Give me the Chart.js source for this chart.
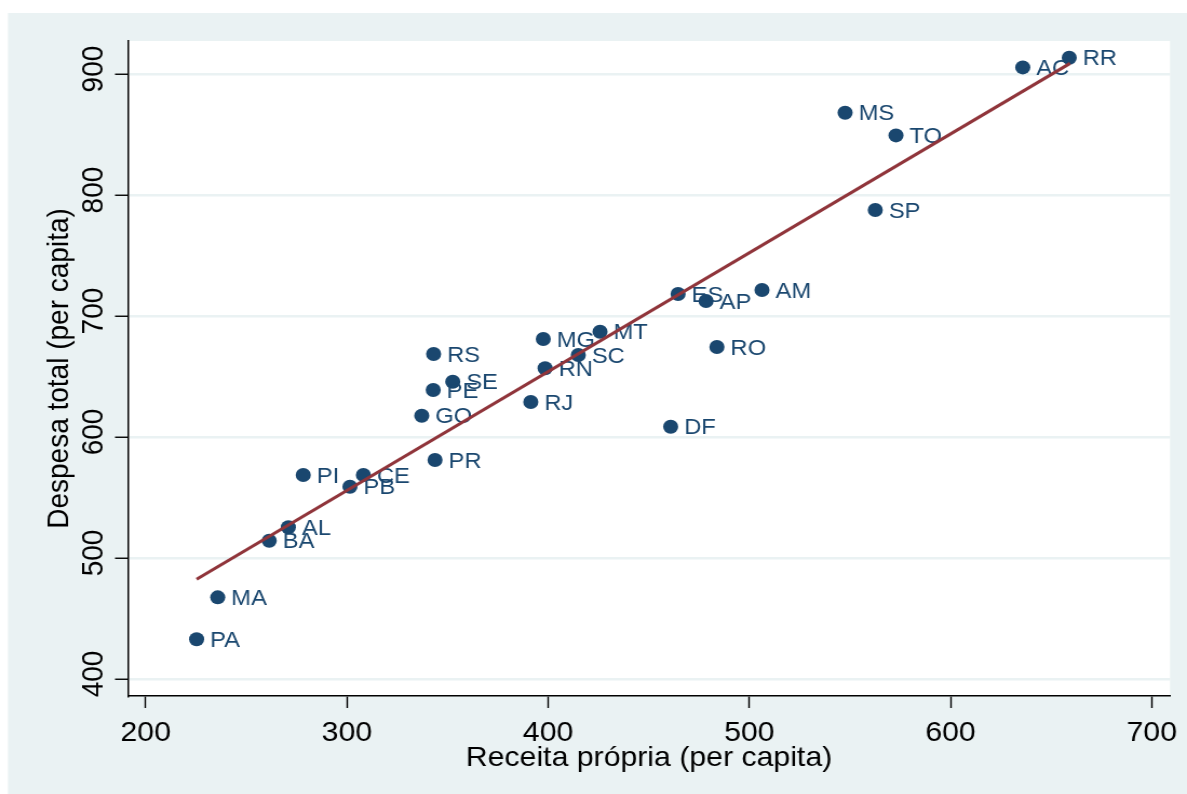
<!DOCTYPE html>
<html>
<head>
<meta charset="utf-8">
<script src="https://cdn.jsdelivr.net/npm/chart.js@4/dist/chart.umd.min.js"></script>
<style>
  html, body { margin: 0; padding: 0; background: #ffffff; overflow: hidden; }
  #wrap { width: 1099px; height: 794px; transform: scaleX(1.08007); transform-origin: 0 0; }
  canvas { display: block; }
</style>
</head>
<body>
<div id="wrap"><canvas id="c" width="1099" height="794" style="width:1099px;height:794px"></canvas></div>
<script>
// ---- Data ----
const states = ['RR','AC','MS','TO','SP','AM','ES','AP','RO','DF','MT','MG','SC','RN','RJ','RS','SE','PE','GO','PR','PI','CE','PB','AL','BA','MA','PA'];
const receitaPropria = [659.0, 635.9, 547.6, 572.9, 562.6, 506.3, 464.6, 478.5, 483.9, 460.9, 425.8, 397.6, 415.0, 398.5, 391.4, 343.1, 352.6, 342.9, 337.2, 343.8, 278.3, 308.2, 301.5, 270.9, 261.4, 235.8, 225.3];
const despesaTotal   = [913.5, 905.5, 868.0, 849.3, 787.6, 721.5, 718.2, 712.4, 674.4, 608.5, 687.0, 681.0, 667.8, 656.8, 628.9, 668.6, 645.7, 638.8, 617.6, 581.0, 568.6, 568.6, 558.9, 525.4, 514.3, 467.5, 432.8];
const fitX = [225.3, 659.4];
const fitY = [482.4, 908.8];
const xTicks = [200, 300, 400, 500, 600, 700];
const yTicks = [400, 500, 600, 700, 800, 900];
const xTitle = 'Receita própria (per capita)';
const yTitle = 'Despesa total (per capita)';

const NAVY = '#1a476f';
const MAROON = '#90353b';
const BG = '#eaf2f3';
const FONT = "'Liberation Sans', Arial, sans-serif";

const scatterPoints = receitaPropria.map((x, i) => ({ x: x, y: despesaTotal[i] }));
const fitPoints = fitX.map((x, i) => ({ x: x, y: fitY[i] }));

const bgPlugin = {
  id: 'bg',
  beforeDraw(chart) {
    const ctx = chart.ctx, a = chart.chartArea;
    ctx.save();
    ctx.fillStyle = '#ffffff';
    ctx.fillRect(0, 0, chart.width, chart.height);
    ctx.fillStyle = BG;
    ctx.fillRect(7.4, 13, chart.width - 7.4, chart.height - 13);
    ctx.fillStyle = '#ffffff';
    ctx.fillRect(a.left, a.top, a.right - a.left, a.bottom - a.top);
    ctx.restore();
  }
};

const labelPlugin = {
  id: 'pointLabels',
  afterDatasetDraw(chart, args) {
    if (args.index !== 1) return;
    const ctx = chart.ctx;
    ctx.save();
    ctx.font = "22px " + FONT;
    ctx.fillStyle = NAVY;
    ctx.textAlign = 'left';
    ctx.textBaseline = 'middle';
    args.meta.data.forEach((pt, i) => {
      ctx.fillText(states[i], pt.x + 12.5, pt.y + 1.5);
    });
    ctx.restore();
  }
};

new Chart(document.getElementById('c'), {
  type: 'scatter',
  data: {
    datasets: [
      {
        label: 'Fitted values',
        data: fitPoints,
        showLine: true,
        borderColor: MAROON,
        borderWidth: 3,
        pointRadius: 0,
        fill: false
      },
      {
        label: 'Despesa total',
        data: scatterPoints,
        pointRadius: 7,
        pointHoverRadius: 7,
        pointBackgroundColor: NAVY,
        pointBorderWidth: 0,
        showLine: false
      }
    ]
  },
  options: {
    responsive: false,
    animation: false,
    devicePixelRatio: 1,
    layout: { padding: { top: 41, right: 15.7, left: 0, bottom: 0 } },
    plugins: { legend: { display: false }, tooltip: { enabled: false } },
    scales: {
      x: {
        type: 'linear',
        min: 191.2,
        max: 709.1,
        afterBuildTicks(scale) { scale.ticks = xTicks.map(v => ({ value: v })); },
        afterFit(scale) { scale.height = 98; },
        grid: { drawOnChartArea: false, drawTicks: true, tickLength: 12, tickColor: '#000', tickWidth: 1.4 },
        border: { display: true, color: '#000', width: 1.6 },
        ticks: { color: '#000', font: { family: FONT, size: 28 }, padding: 8, maxRotation: 0, autoSkip: false },
        title: { display: true, text: xTitle, color: '#000', font: { family: FONT, size: 28 }, padding: { top: 0, bottom: 19 } }
      },
      y: {
        type: 'linear',
        min: 385.95,
        max: 927.3,
        afterBuildTicks(scale) { scale.ticks = yTicks.map(v => ({ value: v })); },
        afterFit(scale) { scale.width = 118.5; },
        grid: { color: BG, lineWidth: 2.5, drawTicks: true, tickLength: 12, tickColor: '#000', tickWidth: 1.4 },
        border: { display: true, color: '#000', width: 1.5 },
        ticks: { color: '#000', font: { family: FONT, size: 28 }, padding: -4, minRotation: 90, maxRotation: 90, crossAlign: 'center', labelOffset: -5, autoSkip: false },
        title: { display: true, text: yTitle, color: '#000', font: { family: FONT, size: 28 }, padding: { top: 38.8, bottom: 0 } }
      }
    }
  },
  plugins: [bgPlugin, labelPlugin]
});
</script>
</body>
</html>
